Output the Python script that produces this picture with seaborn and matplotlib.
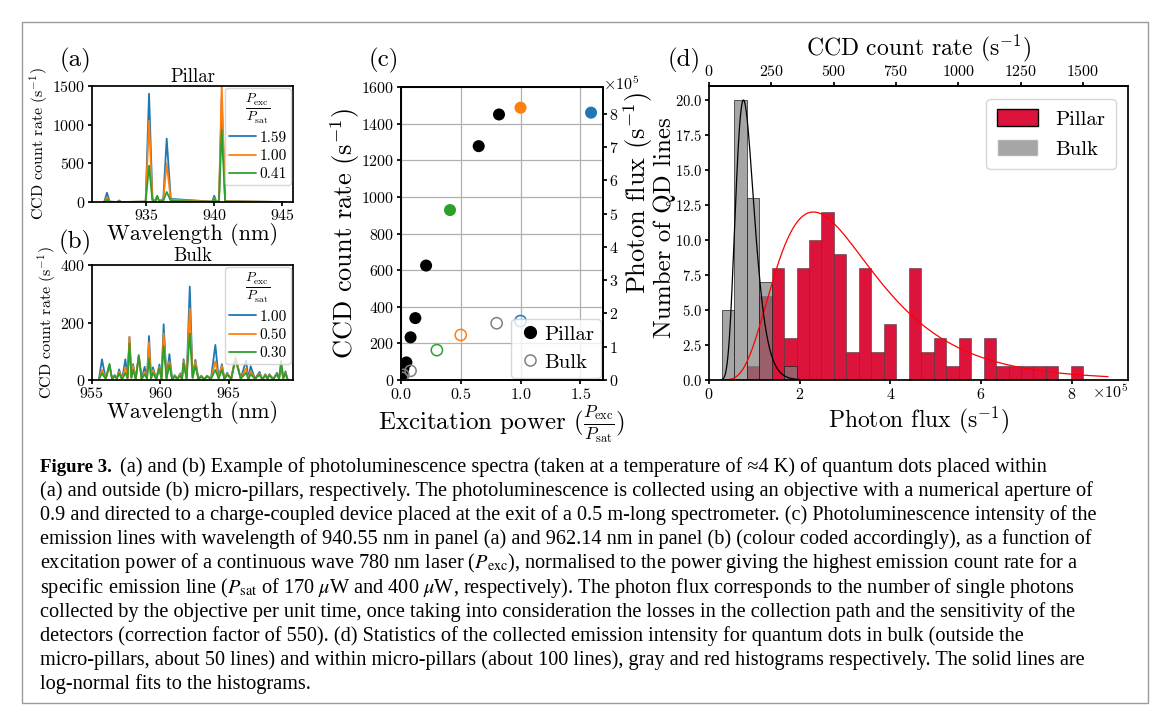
import numpy as np
import pandas as pd
import matplotlib
matplotlib.use('Agg')
import matplotlib.pyplot as plt
from matplotlib.patches import Patch, Rectangle
from matplotlib.lines import Line2D
from matplotlib.ticker import MultipleLocator
import seaborn as sns

# (a) pillar spectra (CCD counts/s), one list per excitation power
wl_a = [931.9, 932.1, 932.3, 932.85, 933.0, 933.15, 934.95, 935.2, 935.45, 935.65, 935.8,
        935.95, 936.25, 936.5, 936.8, 939.85, 940.0, 940.15, 940.35, 940.55, 940.8, 945.2]
blue_a = [0, 120, 5, 0, 20, 0, 5, 1400, 40, 10, 70, 10, 40, 820, 40, 5, 80, 5, 10, 1340, 10, 0]
orange_a = [0, 60, 3, 0, 12, 0, 5, 1050, 30, 10, 75, 10, 30, 500, 30, 5, 50, 5, 10, 1520, 10, 0]
green_a = [0, 30, 2, 0, 8, 0, 3, 470, 15, 8, 80, 8, 15, 130, 15, 3, 40, 3, 5, 930, 5, 0]
labels_a = ['1.59', '1.00', '0.41']

# (b) bulk spectra: line maxima and the baseline between them
peak_wl_b = [955.73, 956.28, 956.66, 956.98, 957.44, 957.74, 958.0, 958.42, 958.85, 959.17, 959.46,
             959.93, 960.24, 960.66, 961.05, 961.46, 961.7, 962.15, 962.56, 963.0, 963.41, 964.02,
             964.5, 964.88, 965.49, 966.27, 966.6, 967.25, 967.68, 967.97, 968.53, 968.83, 969.15]
peak_blue_b = [72, 50, 17, 37, 72, 150, 55, 87, 46, 153, 44, 54, 194, 90, 17, 23, 72, 325, 70, 15, 15,
               122, 55, 25, 78, 68, 48, 28, 20, 20, 25, 45, 30]
peak_orange_b = [35, 52, 15, 29, 46, 150, 50, 85, 29, 130, 35, 45, 162, 64, 15, 20, 65, 249, 62, 13, 14,
                 65, 50, 22, 81, 40, 30, 22, 18, 18, 22, 55, 25]
peak_green_b = [23, 56, 14, 22, 25, 127, 35, 83, 20, 75, 25, 40, 118, 52, 12, 15, 58, 162, 50, 12, 12,
                35, 35, 18, 70, 25, 20, 18, 16, 16, 20, 67, 22]
gap_wl_b = [955.5, 956.0, 956.47, 956.82, 957.2, 957.6, 957.88, 958.2, 958.63, 959.02, 959.32, 959.7,
            960.08, 960.45, 960.86, 961.25, 961.58, 961.92, 962.36, 962.78, 963.2, 963.7, 964.26,
            964.69, 965.18, 965.88, 966.44, 966.92, 967.46, 967.83, 968.25, 968.68, 968.99, 969.3]
gap_level_b = [2, 4, 3, 5, 2, 6, 8, 4, 3, 5, 6, 3, 4, 6, 2, 4, 3, 5, 8, 3, 2, 4, 6, 3, 4, 5, 3, 4, 2,
               5, 3, 4, 6, 2]
labels_b = ['1.00', '0.50', '0.30']

# (c) count rate vs normalised excitation power
pillar_p = [0.005, 0.01, 0.015, 0.02, 0.045, 0.08, 0.12, 0.21, 0.65, 0.82]
pillar_ccd = [10, 25, 45, 62, 96, 233, 338, 625, 1277, 1450]
pillar_col_p = [0.41, 1.00, 1.59]
pillar_col_ccd = [928, 1487, 1460]
bulk_p = [0.01, 0.02, 0.08, 0.80]
bulk_ccd = [12, 28, 50, 310]
bulk_col_p = [0.30, 0.50, 1.00]
bulk_col_ccd = [163, 246, 322]
correction = 550

# (d) histograms of photon flux (units of 1e5 s^-1)
bin_width = 0.275
pillar_start = 0.83
pillar_counts = [1, 6, 8, 3, 8, 10, 12, 9, 2, 8, 2, 4, 0, 8, 2, 3, 1, 3, 0, 3, 1, 1, 1, 1, 1, 0, 1]
bulk_start = 0.28
bulk_counts = [5, 20, 13, 7, 0, 1]
# log-normal fits: mode, peak height, sigma
pillar_fit = (2.3, 12.0, 0.48)
bulk_fit = (0.76, 20.0, 0.27)

caption = [
    "(a) and outside (b) micro-pillars, respectively. The photoluminescence is collected using an objective with a numerical aperture of",
    "0.9 and directed to a charge-coupled device placed at the exit of a 0.5 m-long spectrometer. (c) Photoluminescence intensity of the",
    "emission lines with wavelength of 940.55 nm in panel (a) and 962.14 nm in panel (b) (colour coded accordingly), as a function of",
    r"excitation power of a continuous wave 780 nm laser ($P_{\rm exc}$), normalised to the power giving the highest emission count rate for a",
    r"specific emission line ($P_{\rm sat}$ of 170 $\mu$W and 400 $\mu$W, respectively). The photon flux corresponds to the number of single photons",
    "collected by the objective per unit time, once taking into consideration the losses in the collection path and the sensitivity of the",
    "detectors (correction factor of 550). (d) Statistics of the collected emission intensity for quantum dots in bulk (outside the",
    "micro-pillars, about 50 lines) and within micro-pillars (about 100 lines), gray and red histograms respectively. The solid lines are",
    "log-normal fits to the histograms.",
]

sns.set_theme(style='ticks')
plt.rcParams['font.family'] = ['cmr10', 'DejaVu Serif']
plt.rcParams['mathtext.fontset'] = 'cm'
plt.rcParams['axes.formatter.use_mathtext'] = True
plt.rcParams['axes.unicode_minus'] = False
plt.rcParams['axes.edgecolor'] = 'black'
plt.rcParams['xtick.color'] = 'black'
plt.rcParams['ytick.color'] = 'black'
plt.rcParams['text.color'] = 'black'
plt.rcParams['axes.labelcolor'] = 'black'

W, H = 1165, 716
fig = plt.figure(figsize=(W / 100, H / 100), dpi=100)


def box(l, t, r, b):
    return [l / W, 1 - b / H, (r - l) / W, (b - t) / H]


cols = ['tab:blue', 'tab:orange', 'tab:green']
frac = r'$\frac{P_{\rm exc}}{P_{\rm sat}}$'

# ---------- (a)
ax_a = fig.add_axes(box(92, 86, 293, 202))
for y, c, lab in zip([blue_a, orange_a, green_a], cols, labels_a):
    sns.lineplot(x=wl_a, y=y, color=c, lw=1.3, label=lab, ax=ax_a)
ax_a.set_xlim(931.0, 945.8)
ax_a.set_ylim(0, 1500)
ax_a.set_xticks([935, 940, 945])
ax_a.set_yticks([0, 500, 1000, 1500])
ax_a.set_title('Pillar', fontsize=13.5, pad=2)
ax_a.set_xlabel('Wavelength (nm)', fontsize=16, labelpad=0)
ax_a.set_ylabel(r'CCD count rate (s$^{-1}$)', fontsize=11.5, labelpad=2)

# ---------- (b)
spec_b = pd.DataFrame({'wl': peak_wl_b + gap_wl_b,
                       'blue': peak_blue_b + gap_level_b,
                       'orange': peak_orange_b + gap_level_b,
                       'green': peak_green_b + gap_level_b}).sort_values('wl')
ax_b = fig.add_axes(box(92, 265, 293, 380))
for key, c, lab in zip(['blue', 'orange', 'green'], cols, labels_b):
    sns.lineplot(data=spec_b, x='wl', y=key, color=c, lw=1.3, label=lab, ax=ax_b, sort=False)
ax_b.set_xlim(955.0, 969.7)
ax_b.set_ylim(0, 400)
ax_b.set_xticks([955, 960, 965])
ax_b.set_yticks([0, 200, 400])
ax_b.set_title('Bulk', fontsize=13.5, pad=2)
ax_b.set_xlabel('Wavelength (nm)', fontsize=16, labelpad=0)
ax_b.set_ylabel(r'CCD count rate (s$^{-1}$)', fontsize=11.5, labelpad=2)

for ax in (ax_a, ax_b):
    ax.tick_params(labelsize=11.5, length=3, pad=1.5)
    ax.legend(title=frac, loc='upper right', fontsize=11, title_fontsize=14,
              handlelength=1.8, handletextpad=0.2, labelspacing=0.3,
              borderaxespad=0.15, borderpad=0.25, framealpha=0.8)

# ---------- (c)
ax_c = fig.add_axes(box(401, 87, 603, 380))
ax_c.grid(True, color='#b0b0b0', lw=0.9)
ax_c.set_axisbelow(True)
sns.scatterplot(x=pillar_p, y=pillar_ccd, color='black', s=75, edgecolor='none', ax=ax_c,
                zorder=3)
sns.scatterplot(x=pillar_col_p, y=pillar_col_ccd, hue=['g', 'o', 'b'],
                palette={'g': 'tab:green', 'o': 'tab:orange', 'b': 'tab:blue'},
                s=75, edgecolor='none', legend=False, ax=ax_c, zorder=3)
sns.scatterplot(x=bulk_p, y=bulk_ccd, facecolor='none', edgecolor='gray', linewidth=1.1,
                s=65, ax=ax_c, zorder=3)
sns.scatterplot(x=bulk_col_p, y=bulk_col_ccd, facecolor='none',
                edgecolor=['tab:green', 'tab:orange', 'tab:blue'], linewidth=1.1,
                s=65, ax=ax_c, zorder=3)
ax_c.set_xlim(0, 1.69)
ax_c.set_ylim(0, 1600)
ax_c.xaxis.set_major_locator(MultipleLocator(0.5))
ax_c.yaxis.set_major_locator(MultipleLocator(200))
ax_c.tick_params(labelsize=11.5, length=3, pad=2)
ax_c.set_ylabel(r'CCD count rate (s$^{-1}$)', fontsize=19)
ax_c.yaxis.set_label_coords(-0.195, 0.5)
ax_c.set_xlabel(r'Excitation power ($\frac{P_{\rm exc}}{P_{\rm sat}}$)', fontsize=18, labelpad=1)
handles_c = [Line2D([], [], ls='', marker='o', color='black', markersize=8.5, label='Pillar'),
             Line2D([], [], ls='', marker='o', mfc='none', mec='gray', mew=1.1, markersize=8,
                    label='Bulk')]
ax_c.legend(handles=handles_c, loc='lower right', fontsize=15, handletextpad=0.1,
            handlelength=1.2, borderaxespad=0.1, borderpad=0.3, labelspacing=0.45,
            framealpha=0.8)
ax_c2 = ax_c.twinx()
ax_c2.set_ylim(0, 1600 * correction)
ax_c2.yaxis.set_major_locator(MultipleLocator(1e5))
ax_c2.ticklabel_format(axis='y', style='sci', scilimits=(5, 5), useMathText=True)
ax_c2.tick_params(labelsize=11.5, length=3, pad=1)
ax_c2.set_ylabel(r'Photon flux (s$^{-1}$)', fontsize=19)
ax_c2.yaxis.set_label_coords(1.09, 0.64)
ax_c2.yaxis.get_offset_text().set_visible(False)
ax_c2.text(1.0, 1.01, r'$\times10^{5}$', transform=ax_c2.transAxes, ha='left', va='center',
           fontsize=11.5)

# ---------- (d)
ax_d = fig.add_axes(box(709, 86, 1128, 380))
pillar_edges = [(pillar_start + bin_width * i) * 1e5 for i in range(len(pillar_counts) + 1)]
bulk_edges = [(bulk_start + bin_width * i) * 1e5 for i in range(len(bulk_counts) + 1)]
pillar_mid = [(pillar_start + bin_width * (i + 0.5)) * 1e5 for i in range(len(pillar_counts))]
bulk_mid = [(bulk_start + bin_width * (i + 0.5)) * 1e5 for i in range(len(bulk_counts))]
sns.histplot(x=pillar_mid, weights=pillar_counts, bins=pillar_edges, color='crimson',
             alpha=1.0, edgecolor=(0.2, 0.2, 0.2, 0.6), linewidth=0.6, ax=ax_d)
sns.histplot(x=bulk_mid, weights=bulk_counts, bins=bulk_edges, color='gray',
             alpha=0.7, edgecolor=(0.1, 0.1, 0.1, 0.8), linewidth=0.6, ax=ax_d)


def lognormal(x, mode, peak, sigma):
    mu = np.log(mode) + sigma ** 2
    return peak * (mode / x) * np.exp(-((np.log(x) - mu) ** 2 - sigma ** 4) / (2 * sigma ** 2))


xr = np.linspace(0.3, 8.8, 300)
xb = np.linspace(0.25, 2.0, 200)
sns.lineplot(x=xr * 1e5, y=lognormal(xr, *pillar_fit), color='red', lw=0.9, ax=ax_d)
sns.lineplot(x=xb * 1e5, y=lognormal(xb, *bulk_fit), color='black', lw=0.9, ax=ax_d)
ax_d.set_xlim(0, 9.24e5)
ax_d.set_ylim(0, 21)
ax_d.xaxis.set_major_locator(MultipleLocator(2e5))
ax_d.yaxis.set_major_locator(MultipleLocator(2.5))
ax_d.ticklabel_format(axis='x', style='sci', scilimits=(5, 5), useMathText=True)
ax_d.tick_params(labelsize=11.5, length=3, pad=2)
ax_d.tick_params(axis='y', labelsize=10.5)
ax_d.xaxis.get_offset_text().set_visible(False)
ax_d.text(1.0, -0.012, r'$\times10^{5}$', transform=ax_d.transAxes, ha='right', va='top',
          fontsize=11.5)
ax_d.set_ylabel('Number of QD lines', fontsize=18)
ax_d.yaxis.set_label_coords(-0.079, 0.52)
ax_d.set_xlabel(r'Photon flux (s$^{-1}$)', fontsize=17, labelpad=2)
top = ax_d.secondary_xaxis('top', functions=(lambda v: v / correction, lambda v: v * correction))
top.xaxis.set_major_locator(MultipleLocator(250))
top.tick_params(labelsize=11.5, length=3, pad=2)
top.set_xlabel(r'CCD count rate (s$^{-1}$)', fontsize=17, labelpad=6)
handles_d = [Patch(facecolor='crimson', edgecolor='black', label='Pillar'),
             Patch(facecolor='gray', alpha=0.7, label='Bulk')]
ax_d.legend(handles=handles_d, loc='upper right', fontsize=15, handlelength=2.0,
            handleheight=0.9, borderaxespad=0.6, borderpad=0.5, labelspacing=0.5,
            framealpha=0.8)

# panel letters
for lab, x, y in [('(a)', 75, 60), ('(b)', 75, 242), ('(c)', 384, 60), ('(d)', 684, 60)]:
    fig.text(x / W, 1 - y / H, lab, fontsize=18, ha='center', va='center')

# caption
cap_font = ['Liberation Serif', 'DejaVu Serif']
cap_size = 14.6
y0, dy = 467, 24.1
fig.text(40 / W, 1 - y0 / H, 'Figure 3.', fontsize=13.6, family=cap_font, weight='bold',
         va='center')
fig.text(120 / W, 1 - y0 / H,
         '(a) and (b) Example of photoluminescence spectra (taken at a temperature of \u22484 K) of quantum dots placed within',
         fontsize=cap_size, family=cap_font, va='center')
for i, line in enumerate(caption):
    fig.text(40 / W, 1 - (y0 + dy * (i + 1)) / H, line, fontsize=cap_size, family=cap_font,
             va='center', math_fontfamily='stix')

fig.patches.append(Rectangle((22 / W, 1 - 703 / H), 1126 / W, 681 / H, transform=fig.transFigure,
                             fill=False, edgecolor='#9a9a9a', lw=1))

fig.savefig('out.png', dpi=100)
